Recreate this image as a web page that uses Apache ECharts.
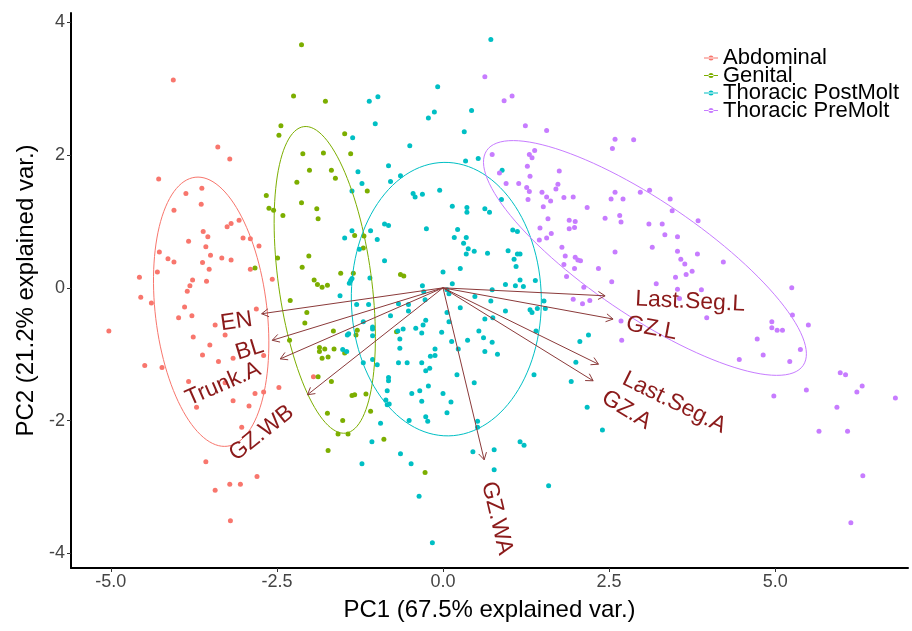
<!DOCTYPE html>
<html>
<head>
<meta charset="utf-8">
<script src="https://cdn.jsdelivr.net/npm/echarts@6/dist/echarts.min.js"></script>
<style>
  html, body { margin: 0; padding: 0; background: #fff; }
  #chart { width: 912px; height: 631px; }
</style>
</head>
<body>
<div id="chart"></div>
<script>
// group names + ggplot hue colours
const groupNames = ['Abdominal', 'Genital', 'Thoracic PostMolt', 'Thoracic PreMolt'];
const groupColours = ['#F8766D', '#7CAE00', '#00BFC4', '#C77CFF'];

// PC scores [PC1, PC2]
const abdominal = [
    [-4.06, 3.13], [-3.39, 2.12], [-3.21, 1.94], [-4.28, 1.64], [-3.87, 1.42], [-3.63, 1.50],
    [-4.05, 1.17], [-3.64, 1.26], [-3.07, 1.02], [-3.25, 0.92], [-3.19, 0.97], [-3.61, 0.85],
    [-3.54, 0.77], [-3.83, 0.70], [-3.01, 0.75], [-2.90, 0.74], [-3.57, 0.62], [-2.77, 0.63],
    [-4.27, 0.54], [-3.50, 0.49], [-4.14, 0.44], [-4.05, 0.39], [-3.62, 0.38], [-3.33, 0.45],
    [-3.19, 0.42], [-3.52, 0.28], [-2.90, 0.28], [-4.30, 0.24], [-4.57, 0.16], [-3.77, 0.12],
    [-3.56, 0.10], [-3.81, 0.03], [-3.85, -0.05], [-2.57, 0.13], [-4.55, -0.14], [-4.39, -0.23],
    [-3.89, -0.29], [-2.81, -0.32], [-3.98, -0.45], [-3.78, -0.42], [-5.03, -0.65], [-3.43, -0.56],
    [-3.28, -0.71], [-3.76, -0.74], [-3.51, -0.86], [-3.62, -1.01], [-3.38, -1.11], [-3.16, -1.06],
    [-4.49, -1.17], [-4.23, -1.20], [-2.70, -1.02], [-3.83, -1.41], [-3.28, -1.43], [-1.95, -1.34],
    [-2.47, -1.50], [-2.83, -1.59], [-2.70, -1.57], [-3.16, -1.70], [-2.92, -1.78], [-3.71, -1.80],
    [-3.03, -2.10], [-3.57, -2.62], [-2.80, -2.84], [-3.21, -2.96], [-3.05, -2.96], [-3.43, -3.05],
    [-3.20, -3.51]
];
const genital = [
    [-2.13, 3.66], [-2.25, 2.89], [-1.77, 2.81], [-2.44, 2.44], [-2.47, 2.30], [-1.48, 2.32],
    [-2.11, 2.02], [-1.80, 2.03], [-2.01, 1.77], [-1.68, 1.77], [-1.62, 1.65], [-2.20, 1.59],
    [-2.66, 1.39], [-1.39, 2.02], [-1.14, 1.46], [-2.62, 1.20], [-2.55, 1.17], [-2.41, 1.09],
    [-2.13, 1.28], [-1.90, 1.19], [-1.88, 1.04], [-2.49, 0.45], [-2.02, 0.48], [-2.12, 0.31],
    [-2.83, 0.30], [-1.54, 0.22], [-1.94, 0.12], [-1.89, 0.05], [-1.82, 0.01], [-1.74, 0.04],
    [-2.30, -0.19], [-2.05, -0.37], [-2.08, -0.53], [-1.65, -0.65], [-2.31, -0.79], [-1.86, -0.90],
    [-1.86, -0.96], [-1.78, -0.92], [-1.64, -0.92], [-1.82, -1.06], [-1.73, -1.04], [-1.88, -1.34],
    [-1.68, -1.41], [-1.33, 0.79], [-1.19, 0.78], [-1.20, 0.60], [-0.64, 0.20], [-0.59, 0.18],
    [-1.35, 0.22], [-1.29, -0.64], [-1.31, -0.71], [-0.70, -0.66], [-1.48, -0.98], [-1.74, -1.89],
    [-1.51, -2.00], [-1.58, -2.20], [-1.43, -2.20], [-1.73, -2.45], [-1.37, -1.62], [-1.33, -1.61],
    [-1.16, -1.60], [-1.09, -1.86], [-0.89, -2.28], [-0.27, -2.78]
];
const postMolt = [
    [0.72, 3.74], [-0.08, 3.03], [-1.11, 2.81], [-0.98, 2.88], [-1.02, 2.47], [-0.22, 2.56],
    [-0.13, 2.65], [0.43, 2.67], [0.32, 2.35], [-1.36, 2.26], [-0.50, 2.14], [0.34, 1.91],
    [0.53, 1.95], [-1.28, 1.75], [-0.82, 1.84], [-0.64, 1.69], [-0.79, 1.60], [-1.22, 1.57],
    [-1.37, 1.46], [-0.45, 1.42], [-0.42, 1.37], [-0.31, 1.41], [-0.05, 1.47], [0.89, 1.77],
    [-1.48, 0.75], [-1.41, 0.07], [-1.55, -0.12], [-1.44, -0.71], [-1.51, -0.93], [-1.45, -0.96],
    [0.14, 1.23], [0.36, 1.21], [0.36, 1.14], [0.63, 1.19], [0.70, 1.14], [0.88, 1.33],
    [-0.88, 0.96], [-0.82, 0.94], [-0.25, 0.89], [0.22, 0.88], [0.17, 0.76], [0.35, 0.76],
    [-1.09, 0.86], [-0.99, 0.73], [-1.37, 0.86], [1.05, 0.87], [1.12, 0.85], [0.31, 0.67],
    [0.38, 0.59], [0.47, 0.55], [0.35, 0.51], [0.67, 0.52], [0.98, 0.56], [1.12, 0.51],
    [1.16, 0.51], [-1.26, 0.58], [-0.88, 0.41], [1.07, 0.43], [1.10, 0.32], [0.26, 0.29],
    [0.00, 0.24], [-1.39, 0.11], [-1.37, 0.14], [-1.10, 0.15], [-0.31, 0.03], [0.14, 0.06],
    [1.16, 0.12], [1.39, 0.11], [0.94, 0.05], [1.09, 0.03], [1.21, 0.02], [0.74, -0.03],
    [-0.29, -0.06], [0.06, -0.03], [0.09, -0.09], [0.48, -0.13], [-1.30, -0.25], [-1.12, -0.25],
    [-0.67, -0.24], [-0.52, -0.25], [-0.27, -0.18], [0.72, -0.20], [0.26, -0.30], [1.52, -0.20],
    [0.94, -0.35], [1.31, -0.33], [1.34, -0.37], [1.42, -0.31], [1.54, -0.31], [-0.79, -0.42],
    [-0.52, -0.35], [0.06, -0.37], [0.63, -0.47], [0.75, -0.45], [0.09, -0.51], [-1.20, -0.51],
    [-0.26, -0.49], [-0.30, -0.56], [-1.06, -0.59], [-1.06, -0.62], [-1.06, -0.72], [-0.41, -0.61],
    [-0.60, -0.62], [-0.68, -0.65], [-0.32, -0.68], [-0.02, -0.67], [0.54, -0.65], [0.61, -0.75],
    [1.40, -0.65], [2.19, -0.71], [-1.42, -0.69], [-0.65, -0.77], [0.37, -0.79], [0.74, -0.82],
    [2.06, -0.81], [0.13, -0.81], [-0.65, -0.91], [-0.12, -0.92], [0.63, -0.96], [0.82, -1.00],
    [0.23, -0.92], [-0.19, -1.03], [-0.12, -1.02], [-0.99, -1.16], [-1.06, -1.08], [-0.67, -1.13],
    [-0.54, -1.13], [-0.32, -1.13], [-0.26, -1.25], [-0.20, -1.21], [-1.20, -1.13], [-0.82, -1.35],
    [-0.82, -1.40], [0.21, -1.31], [0.47, -1.43], [1.37, -1.31], [2.00, -1.12], [-0.84, -1.55],
    [-0.47, -1.59], [-0.35, -1.55], [-0.22, -1.48], [0.00, -1.59], [-0.86, -1.69], [-0.84, -1.76],
    [-0.81, -1.75], [-0.32, -1.71], [0.12, -1.72], [0.06, -1.88], [-0.26, -1.94], [-0.23, -2.01],
    [-0.51, -2.00], [-0.94, -2.04], [0.52, -2.01], [0.52, -2.10], [1.93, -1.41], [2.17, -1.80],
    [2.40, -2.14], [-1.07, -2.32], [-0.64, -2.50], [-1.22, -2.65], [-0.48, -2.65], [0.45, -2.47],
    [0.77, -2.44], [1.16, -2.32], [1.22, -2.37], [0.77, -2.74], [1.59, -2.98], [-0.36, -3.14],
    [-0.16, -3.84]
];
const preMolt = [
    [0.63, 3.18], [0.92, 2.82], [1.04, 2.89], [1.24, 2.44], [1.56, 2.37], [0.74, 2.01],
    [1.38, 2.07], [1.30, 2.01], [1.34, 1.96], [1.27, 1.83], [1.75, 1.76], [1.31, 1.68],
    [0.95, 1.57], [1.14, 1.57], [1.26, 1.51], [1.73, 1.56], [1.70, 1.49], [1.30, 1.45],
    [1.49, 1.44], [1.56, 1.37], [1.82, 1.36], [1.96, 1.37], [2.59, 2.24], [2.55, 2.10],
    [2.59, 1.44], [2.53, 1.34], [2.71, 1.34], [0.85, 1.73], [2.87, 2.23], [2.97, 1.44],
    [3.11, 1.47], [3.42, 1.34], [1.28, 1.33], [1.62, 1.31], [1.51, 1.22], [2.17, 1.21],
    [2.66, 1.09], [2.68, 0.99], [1.58, 1.04], [1.90, 1.02], [1.99, 1.00], [1.90, 0.89],
    [1.98, 0.91], [2.44, 1.05], [1.46, 0.90], [1.56, 0.75], [1.45, 0.72], [1.63, 0.82],
    [1.79, 0.61], [1.84, 0.48], [1.99, 0.46], [2.03, 0.42], [2.07, 0.41], [2.59, 0.54],
    [1.82, 0.35], [1.98, 0.29], [2.34, 0.29], [1.86, 0.17], [2.12, 0.01], [2.54, 0.09],
    [1.96, -0.17], [2.10, -0.24], [2.21, -0.19], [2.68, -0.50], [2.69, -0.79], [3.45, 1.16],
    [3.84, 1.01], [3.10, 0.96], [3.30, 0.96], [3.34, 0.80], [3.53, 0.77], [3.15, 0.61],
    [3.53, 0.55], [3.83, 0.51], [3.58, 0.43], [3.64, 0.36], [4.22, 0.39], [3.75, 0.25],
    [3.66, 0.20], [3.50, 0.16], [3.21, 0.06], [3.53, -0.02], [3.89, -0.03], [3.56, -0.16],
    [5.25, 0.00], [5.26, -0.41], [5.50, -0.56], [4.95, -0.51], [4.95, -0.60], [5.03, -0.64],
    [5.11, -0.64], [3.97, -0.45], [4.73, -0.77], [5.38, -0.93], [4.82, -1.01], [4.46, -1.08],
    [5.22, -1.11], [5.98, -1.28], [6.06, -1.31], [4.98, -1.63], [5.47, -1.54], [6.31, -1.48],
    [6.23, -1.57], [6.81, -1.66], [5.93, -1.80], [5.66, -2.16], [6.09, -2.16], [6.32, -2.83],
    [6.14, -3.54]
];

// normal data ellipses: centre, semi-axes, major-axis angle (deg)
const ellipseCx = [-3.49, -1.78, 0.05, 3.04];
const ellipseCy = [-0.36, 0.12, -0.17, 0.45];
const ellipseA = [2.04, 2.33, 2.06, 2.88];
const ellipseB = [0.84, 0.70, 1.43, 0.86];
const ellipseAngle = [-83.2, -82.2, -89, -34.2];

// variable loadings (arrow tips) and where their names sit
const varNames = ['EN', 'BL', 'Trunk.A', 'GZ.WB', 'GZ.WA', 'Last.Seg.L', 'GZ.L', 'Last.Seg.A', 'GZ.A'];
const varX = [-2.73, -2.57, -2.45, -2.04, 0.62, 2.44, 2.56, 2.34, 2.26];
const varY = [-0.39, -0.79, -1.07, -1.61, -2.59, -0.12, -0.47, -1.15, -1.40];
const labelX = [-3.11, -2.91, -3.31, -2.73, 0.81, 3.72, 3.14, 3.48, 2.76];
const labelY = [-0.51, -0.93, -1.45, -2.19, -3.47, -0.21, -0.61, -1.73, -1.84];

const xTicks = [-5, -2.5, 0, 2.5, 5];
const yTicks = [-4, -2, 0, 2, 4];

const FONT = "'Liberation Sans', Arial, sans-serif";
const ARROW_COLOUR = '#8B3A3A';
const TEXT_COLOUR = '#8B1A1A';

const chart = echarts.init(document.getElementById('chart'), null, { renderer: 'canvas' });

const groups = [abdominal, genital, postMolt, preMolt];

const scatterSeries = groups.map((pts, i) => ({
    name: groupNames[i],
    type: 'scatter',
    data: pts,
    symbol: 'circle',
    symbolSize: 5,
    itemStyle: { color: groupColours[i], opacity: 1 },
    z: 2,
    silent: true
}));

const ellipseSeries = {
    type: 'custom',
    name: 'ellipses',
    coordinateSystem: 'cartesian2d',
    silent: true,
    z: 3,
    data: ellipseCx.map((cx, i) => [cx, ellipseCy[i], ellipseA[i], ellipseB[i], ellipseAngle[i], i]),
    renderItem: (params, api) => {
        const cx = api.value(0), cy = api.value(1);
        const a = api.value(2), b = api.value(3);
        const ang = api.value(4) * Math.PI / 180;
        const idx = api.value(5);
        const pts = [];
        for (let k = 0; k <= 120; k++) {
            const t = 2 * Math.PI * k / 120;
            const ex = a * Math.cos(t), ey = b * Math.sin(t);
            pts.push(api.coord([cx + ex * Math.cos(ang) - ey * Math.sin(ang),
                                cy + ex * Math.sin(ang) + ey * Math.cos(ang)]));
        }
        return {
            type: 'polyline',
            shape: { points: pts },
            style: { stroke: groupColours[idx], lineWidth: 1, fill: null }
        };
    }
};

const arrowSeries = {
    type: 'custom',
    name: 'arrows',
    coordinateSystem: 'cartesian2d',
    silent: true,
    z: 4,
    data: varX.map((x, i) => [x, varY[i]]),
    renderItem: (params, api) => {
        const p0 = api.coord([0, 0]);
        const p1 = api.coord([api.value(0), api.value(1)]);
        const th = Math.atan2(p1[1] - p0[1], p1[0] - p0[0]);
        const L = 8, w = Math.PI / 6;
        const h1 = [p1[0] - L * Math.cos(th - w), p1[1] - L * Math.sin(th - w)];
        const h2 = [p1[0] - L * Math.cos(th + w), p1[1] - L * Math.sin(th + w)];
        return {
            type: 'group',
            children: [
                { type: 'line', shape: { x1: p0[0], y1: p0[1], x2: p1[0], y2: p1[1] },
                  style: { stroke: ARROW_COLOUR, lineWidth: 1 } },
                { type: 'polyline', shape: { points: [h1, p1, h2] },
                  style: { stroke: ARROW_COLOUR, lineWidth: 1, fill: null } }
            ]
        };
    }
};

const labelSeries = {
    type: 'custom',
    name: 'varnames',
    coordinateSystem: 'cartesian2d',
    silent: true,
    z: 5,
    data: labelX.map((x, i) => [x, labelY[i], i]),
    renderItem: (params, api) => {
        const i = api.value(2);
        const p = api.coord([api.value(0), api.value(1)]);
        // ggbiplot rotates each name along its arrow
        const rot = Math.atan(varY[i] / varX[i]);
        return {
            type: 'text',
            x: p[0],
            y: p[1],
            rotation: rot,
            style: {
                text: varNames[i],
                fill: TEXT_COLOUR,
                font: '23px ' + FONT,
                align: 'center',
                verticalAlign: 'middle'
            }
        };
    }
};

const option = {
    animation: false,
    backgroundColor: '#ffffff',
    grid: { left: 71, right: 4, top: 13, bottom: 63, containLabel: false },
    legend: {
        data: groupNames,
        orient: 'vertical',
        left: 704,
        top: 47,
        itemGap: -4.5,
        itemWidth: 14,
        itemHeight: 10,
        icon: 'path://M0,4.6 H14 V5.4 H0 Z M7,2.5 A2.5,2.5 0 1,0 7,7.5 A2.5,2.5 0 1,0 7,2.5 Z',
        textStyle: { fontFamily: FONT, fontSize: 22, color: '#000', lineHeight: 17.5, padding: [0, 0, 0, 0] },
        padding: 0,
        selectedMode: false
    },
    xAxis: {
        type: 'value',
        min: -5.6,
        max: 7.0,
        name: 'PC1 (67.5% explained var.)',
        nameLocation: 'middle',
        nameGap: 30,
        nameTextStyle: { fontFamily: FONT, fontSize: 24, color: '#000', verticalAlign: 'top' },
        splitLine: { show: false },
        axisLine: { onZero: false, lineStyle: { color: '#000', width: 2 } },
        axisTick: { customValues: xTicks, length: 4, lineStyle: { color: '#333' } },
        axisLabel: {
            customValues: xTicks,
            formatter: v => v.toFixed(1),
            fontFamily: FONT, fontSize: 18, color: '#444', margin: 5
        }
    },
    yAxis: {
        type: 'value',
        min: -4.22,
        max: 4.14,
        name: 'PC2 (21.2% explained var.)',
        nameLocation: 'middle',
        nameGap: 32,
        nameTextStyle: { fontFamily: FONT, fontSize: 24, color: '#000' },
        splitLine: { show: false },
        axisLine: { onZero: false, lineStyle: { color: '#000', width: 2 } },
        axisTick: { customValues: yTicks, length: 4, lineStyle: { color: '#333' } },
        axisLabel: {
            customValues: yTicks,
            formatter: v => String(v),
            fontFamily: FONT, fontSize: 18, color: '#444', margin: 6
        }
    },
    series: [...scatterSeries, ellipseSeries, arrowSeries, labelSeries]
};

chart.setOption(option);
window.addEventListener('resize', () => { chart.resize(); });
</script>
</body>
</html>
